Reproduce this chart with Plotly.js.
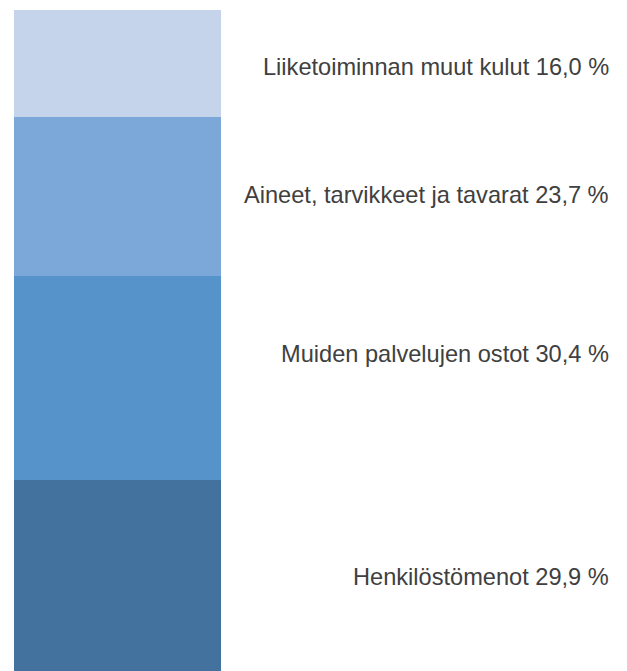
<!DOCTYPE html>
<html>
<head>
<meta charset="utf-8">
<script src="https://cdn.plot.ly/plotly-3.0.1.min.js"></script>
<style>html,body{margin:0;padding:0;background:#fff;}#chart{width:627px;height:671px;}</style>
</head>
<body>
<div id="chart"></div>
<script>
// Data (bottom to top)
const categories = ["Henkilöstömenot", "Muiden palvelujen ostot", "Aineet, tarvikkeet ja tavarat", "Liiketoiminnan muut kulut"];
const shares = [29.9, 30.4, 23.7, 16.0];
const shareLabels = ["29,9 %", "30,4 %", "23,7 %", "16,0 %"];

const colors = ["#44729E", "#5593CA", "#7BA8D9", "#C5D4EA"];
const labelShift = [3, 24, 2, -3];

const traces = categories.map((c, i) => ({
  type: "bar",
  x: [0],
  y: [shares[i]],
  name: c,
  width: 1,
  marker: {color: colors[i], line: {width: 0}},
  hoverinfo: "skip",
  showlegend: false
}));

let cum = 0;
const annotations = categories.map((c, i) => {
  const mid = cum + shares[i] / 2;
  cum += shares[i];
  return {
    xref: "paper", yref: "y",
    x: 611 / 627, y: mid,
    xanchor: "right", yanchor: "middle",
    yshift: labelShift[i],
    text: c + " " + shareLabels[i],
    showarrow: false,
    font: {family: "Liberation Sans, Arial, sans-serif", size: 23.6, color: "#404040"}
  };
});

const layout = {
  width: 627, height: 671,
  margin: {l: 0, r: 0, t: 10, b: 0, pad: 0},
  barmode: "stack",
  bargap: 0,
  paper_bgcolor: "#ffffff",
  plot_bgcolor: "#ffffff",
  xaxis: {domain: [14 / 627, 221 / 627], range: [-0.5, 0.5], visible: false, fixedrange: true},
  yaxis: {range: [1.35, 100], visible: false, fixedrange: true},
  annotations: annotations,
  showlegend: false
};

Plotly.newPlot("chart", traces, layout, {displayModeBar: false, staticPlot: true});
</script>
</body>
</html>
